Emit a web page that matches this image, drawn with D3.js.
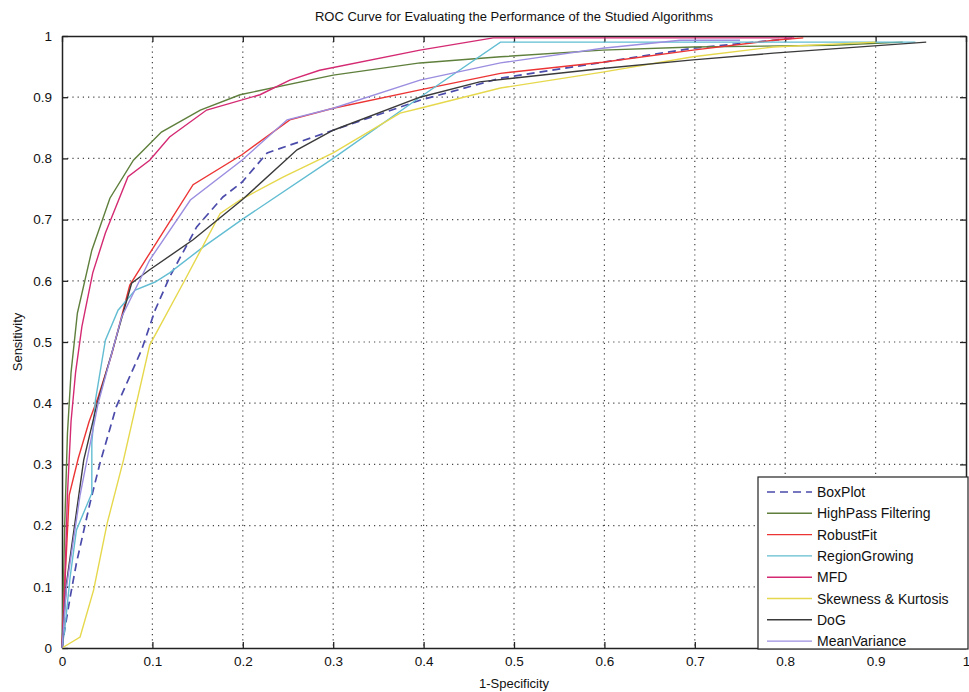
<!DOCTYPE html>
<html>
<head>
<meta charset="utf-8">
<script src="https://cdn.jsdelivr.net/npm/d3@7"></script>
<style>
body { margin: 0; background: #fff; }
text { font-family: "Liberation Sans", Arial, sans-serif; }
</style>
</head>
<body>
<svg id="chart" width="969" height="692"></svg>
<script>
// ROC points (1-specificity, sensitivity)
var boxplotX = [0,0.003,0.009,0.016,0.031,0.042,0.06,0.088,0.103,0.119,0.149,0.178,0.199,0.227,0.3,0.396,0.485,0.598,0.698,0.787,0.81]
var boxplotY = [0,0.03,0.083,0.139,0.237,0.302,0.394,0.487,0.552,0.606,0.688,0.737,0.761,0.809,0.846,0.895,0.931,0.957,0.98,0.993,0.997]

var highpassX = [0,0.003,0.006,0.01,0.017,0.033,0.053,0.079,0.11,0.153,0.197,0.3,0.396,0.485,0.598,0.698,0.853,0.93]
var highpassY = [0,0.2,0.35,0.45,0.547,0.65,0.735,0.797,0.843,0.879,0.904,0.936,0.956,0.966,0.977,0.982,0.985,0.99]

var robustX = [0,0.003,0.008,0.018,0.03,0.04,0.055,0.075,0.097,0.145,0.199,0.252,0.3,0.396,0.485,0.598,0.698,0.787,0.82]
var robustY = [0,0.1,0.25,0.31,0.37,0.41,0.48,0.593,0.645,0.757,0.806,0.863,0.882,0.912,0.939,0.957,0.977,0.993,0.997]

var regionX = [0,0.003,0.009,0.016,0.033,0.033,0.037,0.048,0.062,0.081,0.103,0.119,0.156,0.199,0.3,0.396,0.485,0.944]
var regionY = [0,0.03,0.116,0.193,0.253,0.335,0.405,0.503,0.552,0.585,0.598,0.613,0.655,0.7,0.8,0.9,0.99,0.99]

var mfdX = [0,0.003,0.006,0.01,0.015,0.022,0.034,0.048,0.073,0.097,0.119,0.16,0.219,0.252,0.285,0.396,0.477,0.81]
var mfdY = [0,0.1,0.25,0.37,0.45,0.525,0.613,0.678,0.77,0.797,0.835,0.879,0.904,0.928,0.944,0.977,0.997,0.997]

var skewX = [0,0.02,0.035,0.05,0.068,0.097,0.134,0.175,0.197,0.245,0.3,0.374,0.396,0.485,0.598,0.698,0.787,0.9]
var skewY = [0,0.018,0.095,0.204,0.307,0.495,0.596,0.71,0.732,0.77,0.809,0.874,0.882,0.915,0.941,0.966,0.982,0.99]

var dogX = [0,0.005,0.024,0.039,0.056,0.077,0.097,0.145,0.199,0.26,0.3,0.396,0.462,0.598,0.698,0.787,0.956]
var dogY = [0,0.106,0.307,0.4,0.487,0.596,0.618,0.667,0.732,0.814,0.846,0.9,0.925,0.947,0.961,0.972,0.99]

var meanvarX = [0,0.005,0.02,0.04,0.066,0.097,0.142,0.199,0.249,0.3,0.396,0.485,0.598,0.684,0.75]
var meanvarY = [0,0.1,0.25,0.4,0.541,0.634,0.732,0.797,0.863,0.882,0.928,0.956,0.98,0.993,0.993]

var seriesNames = ["BoxPlot", "HighPass Filtering", "RobustFit", "RegionGrowing", "MFD", "Skewness & Kurtosis", "DoG", "MeanVariance"]
var seriesX = [boxplotX, highpassX, robustX, regionX, mfdX, skewX, dogX, meanvarX]
var seriesY = [boxplotY, highpassY, robustY, regionY, mfdY, skewY, dogY, meanvarY]
var seriesColors = ["#4b4bab", "#5f7f3c", "#ec3434", "#62bdd2", "#d42a72", "#e6d84c", "#3a3a3a", "#9b8ee0"]

var tickValues = [0,0.1,0.2,0.3,0.4,0.5,0.6,0.7,0.8,0.9,1]
var tickLabels = ["0","0.1","0.2","0.3","0.4","0.5","0.6","0.7","0.8","0.9","1"]

var svg = d3.select("#chart")
var margin = {left: 62, right: 3, top: 36, bottom: 44}
var width = 969 - margin.left - margin.right
var height = 692 - margin.top - margin.bottom

var x = d3.scaleLinear().domain([0, 1]).range([0, width])
var y = d3.scaleLinear().domain([0, 1]).range([height, 0])

var g = svg.append("g").attr("transform", "translate(" + margin.left + "," + margin.top + ")")

// grid
g.selectAll(".vgrid").data(tickValues.slice(1, -1)).enter().append("line")
    .attr("x1", d => x(d)).attr("x2", d => x(d))
    .attr("y1", 0).attr("y2", height)
    .style("stroke", "#444").style("stroke-width", 1.2).style("stroke-dasharray", "1.2,4")
g.selectAll(".hgrid").data(tickValues.slice(1, -1)).enter().append("line")
    .attr("y1", d => y(d)).attr("y2", d => y(d))
    .attr("x1", 0).attr("x2", width)
    .style("stroke", "#444").style("stroke-width", 1.2).style("stroke-dasharray", "1.2,4")

// axes, matlab style ticks inside
var xAxis = d3.axisBottom(x).tickValues(tickValues).tickFormat((d, i) => tickLabels[i]).tickSizeInner(-6).tickSizeOuter(0).tickPadding(10)
var yAxis = d3.axisLeft(y).tickValues(tickValues).tickFormat((d, i) => tickLabels[i]).tickSizeInner(-6).tickSizeOuter(0).tickPadding(10)

var gx = g.append("g").attr("transform", "translate(0," + height + ")").call(xAxis)
var gy = g.append("g").call(yAxis)
var gx2 = g.append("g").call(d3.axisTop(x).tickValues(tickValues).tickFormat("").tickSizeInner(-6).tickSizeOuter(0))
var gy2 = g.append("g").attr("transform", "translate(" + width + ",0)")
    .call(d3.axisRight(y).tickValues(tickValues).tickFormat("").tickSizeInner(-6).tickSizeOuter(0))

for (let a of [gx, gy, gx2, gy2]) {
    a.selectAll("path").style("stroke", "#222").style("stroke-width", 1.5)
    a.selectAll("line").style("stroke", "#222").style("stroke-width", 1.3)
    a.selectAll("text").style("font-size", "13.5px").style("fill", "#111")
}
gx.selectAll("text").attr("dy", "0.6em")

// curves
var line = d3.line().x(d => x(d[0])).y(d => y(d[1]))
seriesNames.forEach(function(name, i) {
    let pts = seriesX[i].map((v, k) => [v, seriesY[i][k]])
    g.append("path").datum(pts)
        .attr("d", line)
        .style("fill", "none")
        .style("stroke", seriesColors[i])
        .style("stroke-width", i === 0 ? 1.7 : 1.4)
        .style("stroke-dasharray", i === 0 ? "8,5" : null)
})

// legend
var legend = svg.append("g").attr("transform", "translate(758,477)")
legend.append("rect").attr("width", 210).attr("height", 172)
    .style("fill", "#fff").style("stroke", "#222").style("stroke-width", 1.2)
seriesNames.forEach(function(name, i) {
    let ly = 15 + i * 21.3
    legend.append("line").attr("x1", 9).attr("x2", 54).attr("y1", ly).attr("y2", ly)
        .style("stroke", seriesColors[i]).style("stroke-width", i === 0 ? 1.7 : 1.4)
        .style("stroke-dasharray", i === 0 ? "8,5" : null)
    legend.append("text").attr("x", 59).attr("y", ly + 5).text(name)
        .style("font-size", "14px").style("fill", "#111")
})

// titles
svg.append("text").attr("x", margin.left + width / 2).attr("y", 21).attr("text-anchor", "middle")
    .style("font-size", "13px").style("fill", "#111")
    .text("ROC Curve for Evaluating the Performance of the Studied Algorithms")
svg.append("text").attr("x", margin.left + width / 2).attr("y", 688).attr("text-anchor", "middle")
    .style("font-size", "13px").style("fill", "#111").text("1-Specificity")
svg.append("text").attr("transform", "translate(22," + (margin.top + height / 2) + ") rotate(-90)")
    .attr("text-anchor", "middle").style("font-size", "13px").style("fill", "#111").text("Sensitivity")
</script>
</body>
</html>
